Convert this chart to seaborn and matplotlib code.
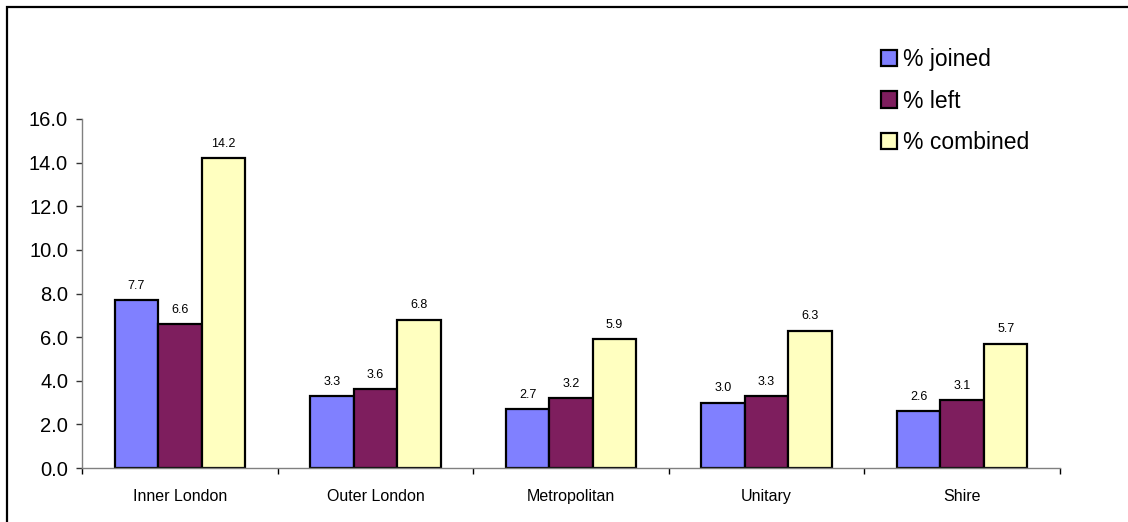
import numpy as np
import pandas as pd
import matplotlib
matplotlib.use('Agg')
import matplotlib.pyplot as plt
import seaborn as sns
from matplotlib.patches import Rectangle
from matplotlib.ticker import FixedLocator, FormatStrFormatter

# Data
categories = ['Inner London', 'Outer London', 'Metropolitan', 'Unitary', 'Shire']
series = ['% joined', '% left', '% combined']
joined = [7.7, 3.3, 2.7, 3.0, 2.6]
left = [6.6, 3.6, 3.2, 3.3, 3.1]
combined = [14.2, 6.8, 5.9, 6.3, 5.7]
colors = ['#8080FF', '#7E1E5E', '#FFFFC0']

df = pd.DataFrame({
    'area': categories * 3,
    'series': [series[0]] * 5 + [series[1]] * 5 + [series[2]] * 5,
    'value': joined + left + combined,
})

sns.set_style('white')
plt.rcParams['font.family'] = ['Liberation Sans', 'DejaVu Sans']
plt.rcParams['text.color'] = 'black'
plt.rcParams['xtick.color'] = 'black'
plt.rcParams['ytick.color'] = 'black'

fig = plt.figure(figsize=(11.28, 5.22), dpi=100)
ax = fig.add_axes([82 / 1128, 1 - 468 / 522, (1060 - 82) / 1128, (468 - 119) / 522])

sns.barplot(data=df, x='area', y='value', hue='series', palette=colors,
            width=0.667, gap=0, edgecolor='black', linewidth=1.6,
            saturation=1, errorbar=None, ax=ax, legend=True)

for cont in ax.containers:
    ax.bar_label(cont, fmt='%.1f', padding=6, fontsize=9, color='black')

ax.set_ylim(0, 16)
ax.set_xlim(-0.5, 4.5)
ax.set_yticks(np.arange(0, 17, 2))
ax.yaxis.set_major_formatter(FormatStrFormatter('%.1f'))
ax.tick_params(axis='y', labelsize=14.5, direction='out', length=4, width=1,
               color='#333333', left=True, pad=6)
ax.tick_params(axis='x', which='major', length=0, labelsize=11.5, pad=15)
ax.xaxis.set_minor_locator(FixedLocator(np.arange(-0.5, 5, 1)))
ax.tick_params(axis='x', which='minor', direction='out', length=4, width=1,
               color='black', bottom=True)
ax.set_xlabel('')
ax.set_ylabel('')

for s in ['top', 'right']:
    ax.spines[s].set_visible(False)
for s in ['left', 'bottom']:
    ax.spines[s].set_color('#808080')
    ax.spines[s].set_linewidth(1)

handles, labels = ax.get_legend_handles_labels()
ax.legend(handles, labels, loc='upper left', bbox_to_anchor=(872 / 1128, 1 - 39 / 522),
          bbox_transform=fig.transFigure, frameon=False, fontsize=16.5,
          handlelength=0.7, handleheight=0.7, handletextpad=0.25,
          labelspacing=0.8, borderaxespad=0)

fig.patches.append(Rectangle((7 / 1128, -0.1), 1.2, 1 - 7 / 522 + 0.1,
                             transform=fig.transFigure, fill=False,
                             edgecolor='black', linewidth=1.6))

fig.savefig('out.png', dpi=100)
